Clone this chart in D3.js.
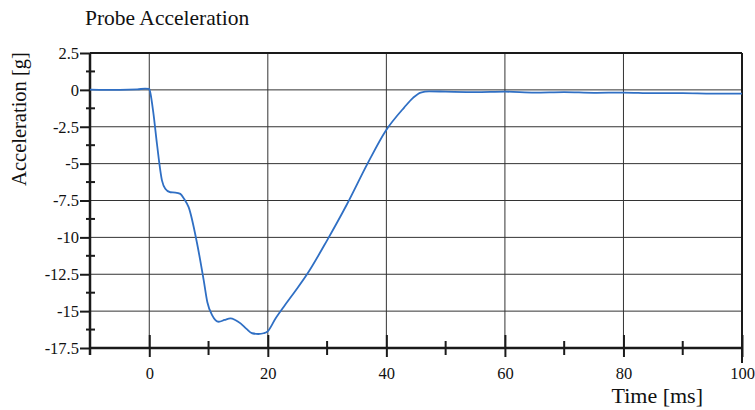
<!DOCTYPE html>
<html>
<head>
<meta charset="utf-8">
<script src="https://cdn.jsdelivr.net/npm/d3@7"></script>
<style>
  body { margin: 0; background: #fff; }
  svg { display: block; }
  text { font-family: "Liberation Serif", "Times New Roman", serif; fill: #111; }
</style>
</head>
<body>
<svg id="chart" width="755" height="410"></svg>
<script>
const title = "Probe Acceleration";
const xLabel = "Time [ms]";
const yLabel = "Acceleration [g]";
const xTickValues = [0, 20, 40, 60, 80, 100];
const xMinorTicks = [10, 30, 50, 70, 90];
const yTickValues = [2.5, 0, -2.5, -5, -7.5, -10, -12.5, -15, -17.5];
const yMinorTicks = [1.25, -1.25, -3.75, -6.25, -8.75, -11.25, -13.75, -16.25];

const timeMs = [-10, -5, -2, -0.7, 0, 0.17, 0.7, 1.3, 2.15, 2.7, 3.55, 4.4, 5.24, 5.9, 6.64, 8.06, 9.18, 9.8, 10.6, 11.7, 12.7, 13.7, 14.5, 15.4, 16.4, 17.36, 18.4, 19.3, 19.9, 21.3, 22.7, 24.7, 26.7, 30.0, 33.4, 36.8, 39.9, 43.0, 44.5, 45.8, 47.2, 50, 55, 60, 65, 70, 75, 80, 85, 90, 95, 100];
const accelG = [0.02, 0.0, 0.03, 0.09, 0.07, -0.18, -1.6, -3.67, -6.15, -6.7, -6.94, -6.96, -7.05, -7.4, -7.95, -10.4, -12.9, -14.4, -15.27, -15.72, -15.6, -15.49, -15.6, -15.83, -16.2, -16.5, -16.55, -16.5, -16.4, -15.5, -14.7, -13.6, -12.45, -10.2, -7.72, -5.02, -2.77, -1.2, -0.54, -0.18, -0.1, -0.12, -0.15, -0.12, -0.18, -0.15, -0.2, -0.18, -0.22, -0.22, -0.25, -0.25];

const svg = d3.select("#chart");
const mLeft = 90, mRight = 742, mTop = 53, mBottom = 348;
const x = d3.scaleLinear().domain([-10, 100]).range([mLeft, mRight]);
const y = d3.scaleLinear().domain([-17.5, 2.5]).range([mBottom, mTop]);
const ink = "#1a1a1a";
const serif = '"Liberation Serif", "Times New Roman", serif';

// grid
svg.append("g").selectAll("line").data([0, 20, 40, 60, 80]).join("line")
  .attr("x1", d => x(d)).attr("x2", d => x(d)).attr("y1", mTop).attr("y2", mBottom)
  .attr("stroke", "#333").attr("stroke-width", 1);
svg.append("g").selectAll("line").data([0, -2.5, -5, -7.5, -10, -12.5, -15]).join("line")
  .attr("x1", mLeft).attr("x2", mRight).attr("y1", d => y(d)).attr("y2", d => y(d))
  .attr("stroke", "#333").attr("stroke-width", 1);

// top & right border
svg.append("line").attr("x1", mLeft).attr("x2", mRight).attr("y1", mTop).attr("y2", mTop)
  .attr("stroke", ink).attr("stroke-width", 2);
svg.append("line").attr("x1", mRight).attr("x2", mRight).attr("y1", mTop).attr("y2", mBottom + 15)
  .attr("stroke", ink).attr("stroke-width", 2);

// left axis
const yAxis = d3.axisLeft(y).tickValues(yTickValues).tickSize(10).tickPadding(1)
  .tickFormat(d => String(d));
const gy = svg.append("g").attr("transform", `translate(${mLeft},0)`).call(yAxis);
gy.attr("font-family", null).attr("font-size", null);
gy.select(".domain").remove();
gy.selectAll(".tick line").attr("stroke", ink).attr("stroke-width", 2);
gy.selectAll(".tick text").style("font-size", "16.5px").style("font-family", serif).attr("fill", "#111");
svg.append("line").attr("x1", mLeft).attr("x2", mLeft).attr("y1", mTop).attr("y2", mBottom + 7)
  .attr("stroke", ink).attr("stroke-width", 2.5);
svg.append("g").selectAll("line").data(yMinorTicks).join("line")
  .attr("x1", mLeft - 4).attr("x2", mLeft + 5).attr("y1", d => y(d)).attr("y2", d => y(d))
  .attr("stroke", ink).attr("stroke-width", 2);

// bottom axis
const xAxis = d3.axisBottom(x).tickValues(xTickValues).tickSize(9).tickPadding(10)
  .tickFormat(d => String(d));
const gx = svg.append("g").attr("transform", `translate(0,${mBottom})`).call(xAxis);
gx.attr("font-family", null).attr("font-size", null);
gx.select(".domain").remove();
gx.selectAll(".tick line").attr("y1", -13).attr("stroke", ink).attr("stroke-width", 2);
gx.selectAll(".tick text").style("font-size", "16.5px").style("font-family", serif).attr("fill", "#111");
svg.append("line").attr("x1", mLeft).attr("x2", mRight).attr("y1", mBottom).attr("y2", mBottom)
  .attr("stroke", ink).attr("stroke-width", 2.5);
svg.append("g").selectAll("line").data(xMinorTicks).join("line")
  .attr("x1", d => x(d)).attr("x2", d => x(d)).attr("y1", mBottom - 7).attr("y2", mBottom + 7)
  .attr("stroke", ink).attr("stroke-width", 2);

// data line
const pts = timeMs.map((t, i) => [t, accelG[i]]);
svg.append("path").datum(pts)
  .attr("fill", "none").attr("stroke", "#2f6fc4").attr("stroke-width", 1.8)
  .attr("d", d3.line().x(d => x(d[0])).y(d => y(d[1])).curve(d3.curveMonotoneX));

// titles
svg.append("text").attr("x", 85).attr("y", 25).style("font-size", "21.5px").text(title);
svg.append("text").attr("x", 703).attr("y", 403).attr("text-anchor", "end").style("font-size", "22px").text(xLabel);
svg.append("text").attr("transform", "translate(26,119) rotate(-90)").attr("text-anchor", "middle")
  .style("font-size", "20.5px").text(yLabel);
</script>
</body>
</html>
